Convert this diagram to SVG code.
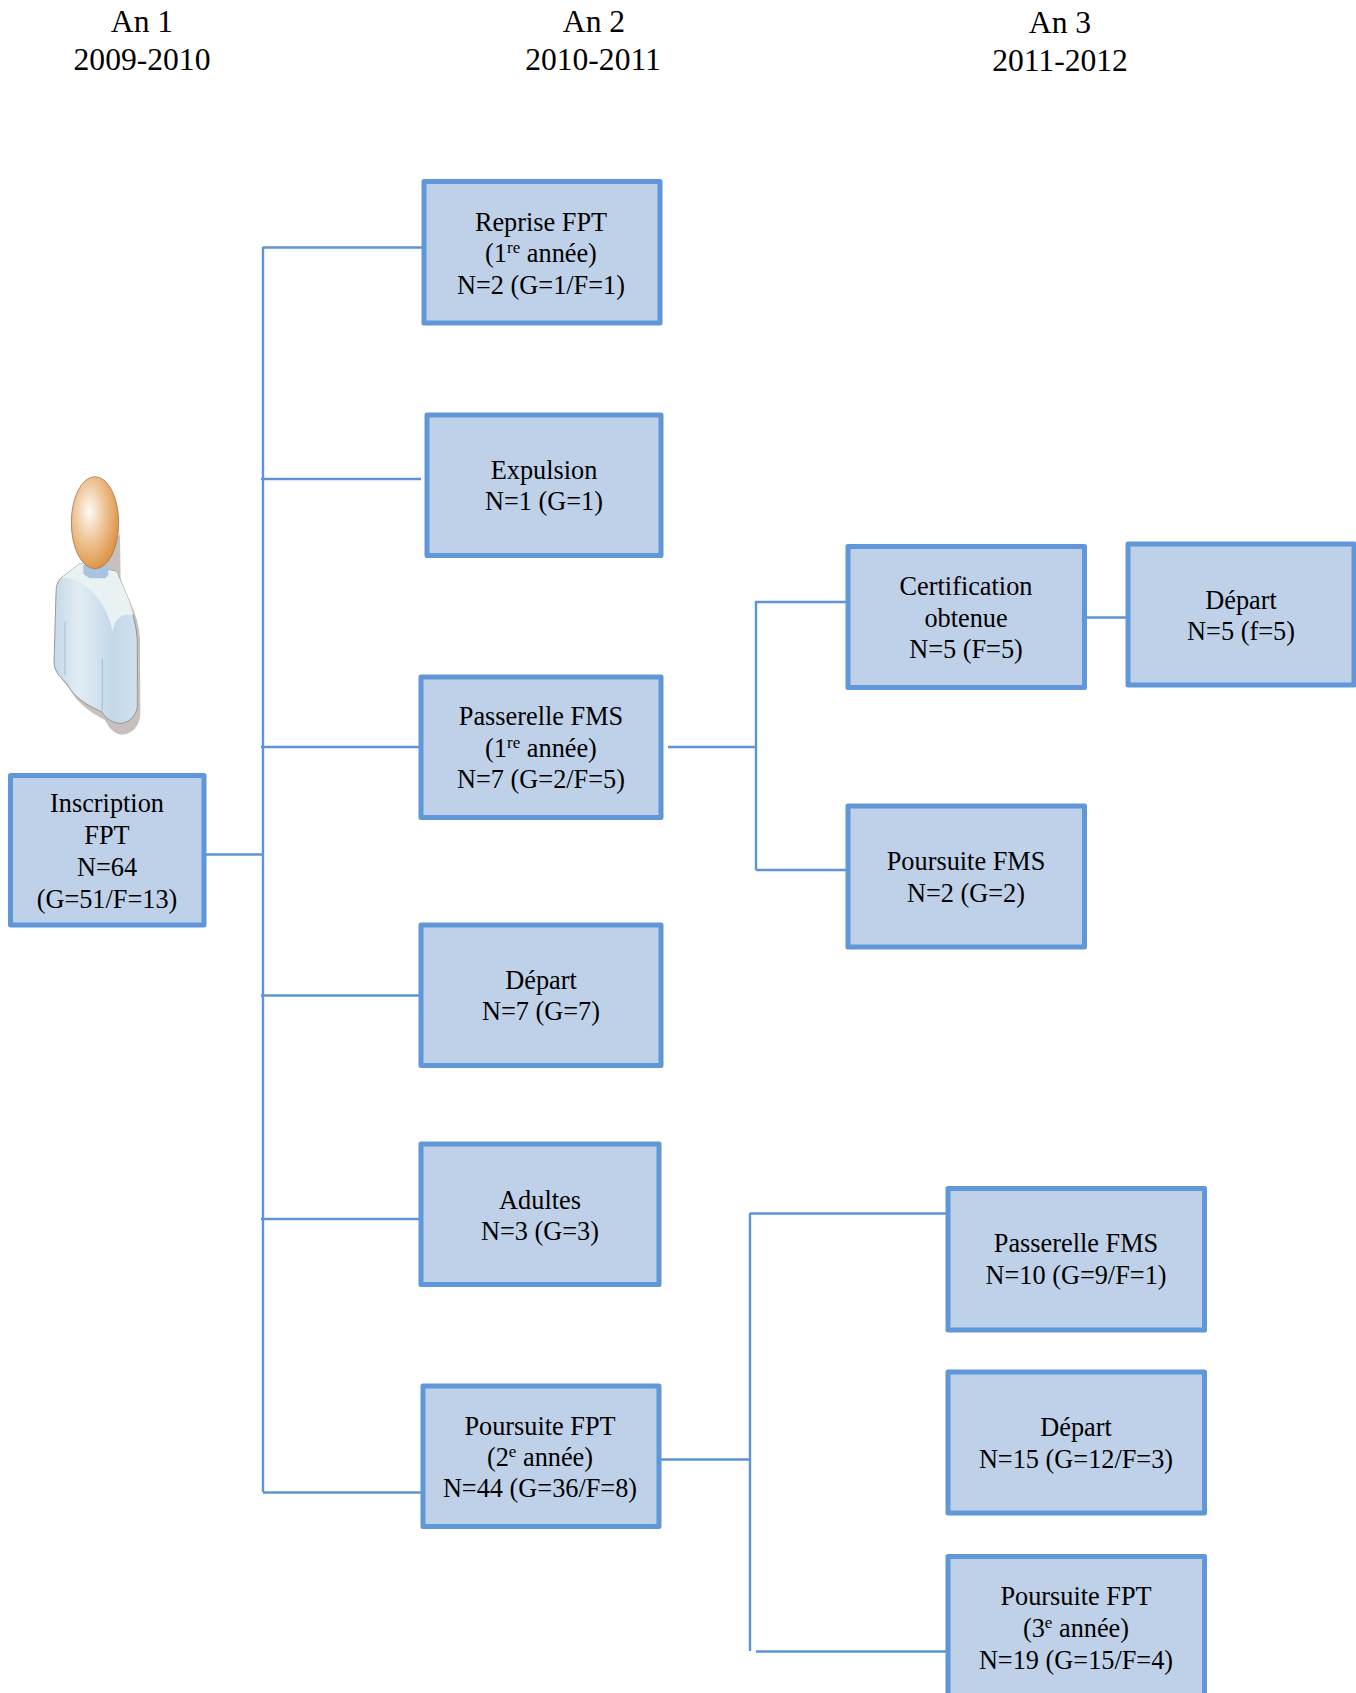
<svg xmlns="http://www.w3.org/2000/svg" width="1356" height="1693" viewBox="0 0 1356 1693">
<style>
.box{fill:#bfd1e8;stroke:#6097d9;stroke-width:5;stroke-linejoin:round}
text{font-family:"Liberation Serif","Times New Roman",serif;fill:#000;text-anchor:middle}
.t{font-size:26.300px}
.h{font-size:31.600px}
.s{font-size:17px}
#connectors path{fill:none;stroke:#5f94d4;stroke-width:2.400}
</style>
<defs>
<radialGradient id="head" cx="0.38" cy="0.38" r="0.68">
<stop offset="0" stop-color="#fdfbf8"/><stop offset="0.45" stop-color="#f0c79c"/><stop offset="1" stop-color="#dd8f3e"/>
</radialGradient>
<linearGradient id="coat" x1="0" y1="0" x2="1" y2="0">
<stop offset="0" stop-color="#c4d8e8"/><stop offset="0.3" stop-color="#e2edf4"/><stop offset="0.7" stop-color="#c3d8e8"/><stop offset="1" stop-color="#cfe1ec"/>
</linearGradient>
</defs>
<rect width="1356" height="1693" fill="#fff"/>
<g id="headers">
<text class="h" x="142" y="32">An 1</text><text class="h" x="142" y="70">2009-2010</text>
<text class="h" x="594" y="32">An 2</text><text class="h" x="593" y="70">2010-2011</text>
<text class="h" x="1060" y="33">An 3</text><text class="h" x="1060" y="71">2011-2012</text>
</g>
<g id="person" transform="translate(0 440) scale(.33333)">
<path d="M172 690C180 720 205 735 220 765C245 800 285 825 315 840C325 860 340 882 365 884C395 884 420 860 421 820L420 600C418 540 395 490 362 425L360 280L300 380L240 500Z" fill="#c8c0bc"/>
<path d="M240 370L182 415C172 425 168 440 168 460L162 670C165 700 185 715 200 730C215 760 245 790 305 815C320 840 340 850 365 850C385 848 408 830 412 800L412 600C408 530 375 450 350 395Z" fill="url(#coat)" stroke="#8d8a88" stroke-width="2.500"/>
<path d="M240 370L184 414C250 410 320 480 338 575C345 530 370 520 400 525C390 480 368 440 350 395Z" fill="#e9f2f3"/>
<path d="M195 545V705M307 655V812" stroke="#9db4d2" stroke-width="2.500" fill="none"/>
<path d="M250 375V403L270 415H315L325 405V375Z" fill="#a9c4e0"/>
<ellipse cx="285" cy="248" rx="71" ry="138" fill="url(#head)" stroke="#a9784e" stroke-width="2.500"/>
</g>
<g id="connectors">
<path d="M206 854.500H263M263 247V1492M263 247.500H422M261 479H421M261 747H419M261 995.500H421M261 1219H419M263 1492.500H427"/>
<path d="M668 747H756M756 601V870M755 602H846M756 870H846M1087 617.500H1126"/>
<path d="M661 1459.500H750M750 1213V1651M750 1213.500H946M756 1651.500H946"/>
</g>
<g id="inscription"><rect class="box" x="10.500" y="775.500" width="193.500" height="149.500"/>
<text class="t" x="107" y="812">Inscription</text><text class="t" x="107" y="844">FPT</text><text class="t" x="107" y="876">N=64</text><text class="t" x="107" y="907.500">(G=51/F=13)</text></g>
<g id="reprise"><rect class="box" x="424" y="181.500" width="236" height="141.500"/>
<text class="t" x="541" y="230.500">Reprise FPT</text><text class="t" x="541" y="262">(1<tspan class="s" dy="-9">re</tspan><tspan dy="9"> année)</tspan></text><text class="t" x="541" y="293.500">N=2 (G=1/F=1)</text></g>
<g id="expulsion"><rect class="box" x="427" y="415" width="234" height="140.500"/>
<text class="t" x="544" y="479">Expulsion</text><text class="t" x="544" y="510">N=1 (G=1)</text></g>
<g id="passerelle1"><rect class="box" x="421" y="677" width="240" height="140.500"/>
<text class="t" x="541" y="725">Passerelle FMS</text><text class="t" x="541" y="757">(1<tspan class="s" dy="-9">re</tspan><tspan dy="9"> année)</tspan></text><text class="t" x="541" y="788">N=7 (G=2/F=5)</text></g>
<g id="depart1"><rect class="box" x="421" y="925" width="240" height="140.500"/>
<text class="t" x="541" y="989">Départ</text><text class="t" x="541" y="1020">N=7 (G=7)</text></g>
<g id="adultes"><rect class="box" x="421" y="1144" width="238" height="140.500"/>
<text class="t" x="540" y="1209">Adultes</text><text class="t" x="540" y="1240">N=3 (G=3)</text></g>
<g id="poursuite2"><rect class="box" x="423" y="1386" width="236" height="140.500"/>
<text class="t" x="540" y="1434.500">Poursuite FPT</text><text class="t" x="540" y="1466">(2<tspan class="s" dy="-9">e</tspan><tspan dy="9"> année)</tspan></text><text class="t" x="540" y="1497">N=44 (G=36/F=8)</text></g>
<g id="certification"><rect class="box" x="848" y="546.500" width="236.500" height="141"/>
<text class="t" x="966" y="595">Certification</text><text class="t" x="966" y="627">obtenue</text><text class="t" x="966" y="658">N=5 (F=5)</text></g>
<g id="depart2"><rect class="box" x="1128" y="544" width="226" height="141"/>
<text class="t" x="1241" y="608.500">Départ</text><text class="t" x="1241" y="640">N=5 (f=5)</text></g>
<g id="poursuiteFMS"><rect class="box" x="848" y="806" width="236.500" height="141"/>
<text class="t" x="966" y="870">Poursuite FMS</text><text class="t" x="966" y="902">N=2 (G=2)</text></g>
<g id="passerelle3"><rect class="box" x="948" y="1188.500" width="256.500" height="141.500"/>
<text class="t" x="1076" y="1252">Passerelle FMS</text><text class="t" x="1076" y="1284">N=10 (G=9/F=1)</text></g>
<g id="depart3"><rect class="box" x="948" y="1372" width="256.500" height="141"/>
<text class="t" x="1076" y="1436">Départ</text><text class="t" x="1076" y="1468">N=15 (G=12/F=3)</text></g>
<g id="poursuite3"><rect class="box" x="948" y="1556.500" width="256.500" height="142"/>
<text class="t" x="1076" y="1605">Poursuite FPT</text><text class="t" x="1076" y="1637">(3<tspan class="s" dy="-9">e</tspan><tspan dy="9"> année)</tspan></text><text class="t" x="1076" y="1668.500">N=19 (G=15/F=4)</text></g>
</svg>
